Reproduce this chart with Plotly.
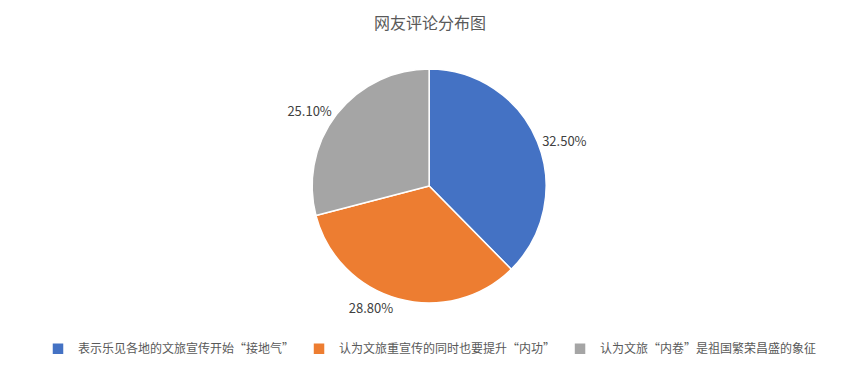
import plotly.graph_objects as go

categories = ["表示乐见各地的文旅宣传开始“接地气”",
              "认为文旅重宣传的同时也要提升“内功”",
              "认为文旅“内卷”是祖国繁荣昌盛的象征"]
values = [32.5, 28.8, 25.1]
label_text = ["32.50%", "28.80%", "25.10%"]
colors = ["#4472C4", "#ED7D31", "#A5A5A5"]

fig = go.Figure(go.Pie(
    labels=categories,
    values=values,
    text=label_text,
    textinfo="text",
    textposition="outside",
    sort=False,
    direction="clockwise",
    rotation=0,
    marker=dict(colors=colors, line=dict(color="white", width=1.5)),
    textfont=dict(family="Noto Sans CJK SC", size=13, color="#404040"),
    domain=dict(x=[0.3, 0.698], y=[0.170, 0.811]),
    hoverinfo="label+text",
))

fig.update_layout(
    width=860, height=365,
    margin=dict(l=0, r=0, t=0, b=0),
    paper_bgcolor="white",
    title=dict(text="网友评论分布图", x=0.5, xanchor="center", y=0.935, yanchor="middle",
               font=dict(family="Noto Sans CJK SC", size=16, color="#595959")),
    legend=dict(orientation="h", x=0.5, xanchor="center", y=0.005, yanchor="bottom",
                font=dict(family="Noto Sans CJK SC", size=12, color="#595959"),
                itemwidth=30, traceorder="normal"),
    showlegend=True,
)

fig.write_html("out.html")
